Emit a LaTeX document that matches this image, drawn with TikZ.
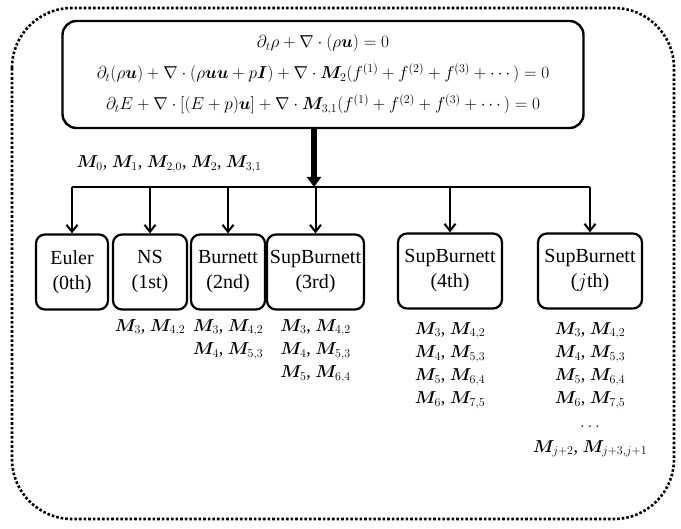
\documentclass[tikz,border=0pt]{standalone}
\usepackage{amsmath}
\usepackage{bm}
\usepackage{fontspec}
\setmainfont{Liberation Serif}
\usetikzlibrary{arrows.meta}
\begin{document}
\begin{tikzpicture}[x=1pt,y=-1pt,
  mbox/.style={draw,line width=2.2pt,rounded corners=9pt,minimum height=75pt,inner sep=1pt,align=center,font=\fontsize{20}{25}\selectfont},
  arr/.style={line width=2pt,-{Straight Barb[length=7pt,width=11pt,line width=2pt]}},
  lab/.style={font=\fontsize{18}{23.2}\selectfont,align=center,anchor=north}]
\useasboundingbox (0,0) rectangle (681,529);
\draw[line width=2.6pt,dotted,rounded corners=60pt] (12,8) rectangle (674,519);
\node[draw,line width=2.4pt,rounded corners=14pt,minimum width=521pt,minimum height=107pt,font=\fontsize{17}{31}\selectfont,align=center] (top) at (323,74.5)
 {$\partial_t\rho+\nabla\cdot(\rho\bm{u})=0$\\
  $\partial_t(\rho\bm{u})+\nabla\cdot(\rho\bm{uu}+p\bm{I})+\nabla\cdot\bm{M}_2(f^{(1)}+f^{(2)}+f^{(3)}+\cdots)=0$\\
  $\partial_t E+\nabla\cdot[(E+p)\bm{u}]+\nabla\cdot\bm{M}_{3,1}(f^{(1)}+f^{(2)}+f^{(3)}+\cdots)=0$};
\coordinate (hub) at (314,187);
\draw[line width=6.5pt,-{Triangle[length=10pt,width=14pt]}] (314,128) -- (hub);
\node[font=\fontsize{18}{22}\selectfont,anchor=east] (mlab) at (265,164) {$\bm{M}_0$, $\bm{M}_1$, $\bm{M}_{2,0}$, $\bm{M}_2$, $\bm{M}_{3,1}$};
\node[mbox,minimum width=72pt] (eu) at (72,272) {Euler\\(0th)};
\node[mbox,minimum width=74pt] (ns) at (150,272) {NS\\(1st)};
\node[mbox,minimum width=74pt] (bu) at (228,272) {Burnett\\(2nd)};
\node[mbox,minimum width=97pt] (s3) at (315.5,272) {SupBurnett\\(3rd)};
\node[mbox,minimum width=104pt] (s4) at (450,271) {SupBurnett\\(4th)};
\node[mbox,minimum width=104pt] (sj) at (590,271) {SupBurnett\\($j$th)};
\coordinate (hl) at (eu.north |- hub);
\coordinate (hr) at (sj.north |- hub);
\draw[line width=2pt] (hl) -- (hr);
\foreach \n in {eu,ns,bu,s3,s4,sj}{\draw[arr] (\n.north |- hub) -- (\n.north);}
\node[lab] (lns) at (150,316) {$\bm{M}_3$, $\bm{M}_{4,2}$};
\node[lab] (lbu) at (228,316) {$\bm{M}_3$, $\bm{M}_{4,2}$\\$\bm{M}_4$, $\bm{M}_{5,3}$};
\node[lab] (ls3) at (315.5,316) {$\bm{M}_3$, $\bm{M}_{4,2}$\\$\bm{M}_4$, $\bm{M}_{5,3}$\\$\bm{M}_5$, $\bm{M}_{6,4}$};
\node[lab] (ls4) at (450,319) {$\bm{M}_3$, $\bm{M}_{4,2}$\\$\bm{M}_4$, $\bm{M}_{5,3}$\\$\bm{M}_5$, $\bm{M}_{6,4}$\\$\bm{M}_6$, $\bm{M}_{7,5}$};
\node[lab] (lsj) at (590,319) {$\bm{M}_3$, $\bm{M}_{4,2}$\\$\bm{M}_4$, $\bm{M}_{5,3}$\\$\bm{M}_5$, $\bm{M}_{6,4}$\\$\bm{M}_6$, $\bm{M}_{7,5}$\\$\ldots$\\[2pt]$\bm{M}_{j+2}$, $\bm{M}_{j+3,j+1}$};
\end{tikzpicture}
\end{document}
